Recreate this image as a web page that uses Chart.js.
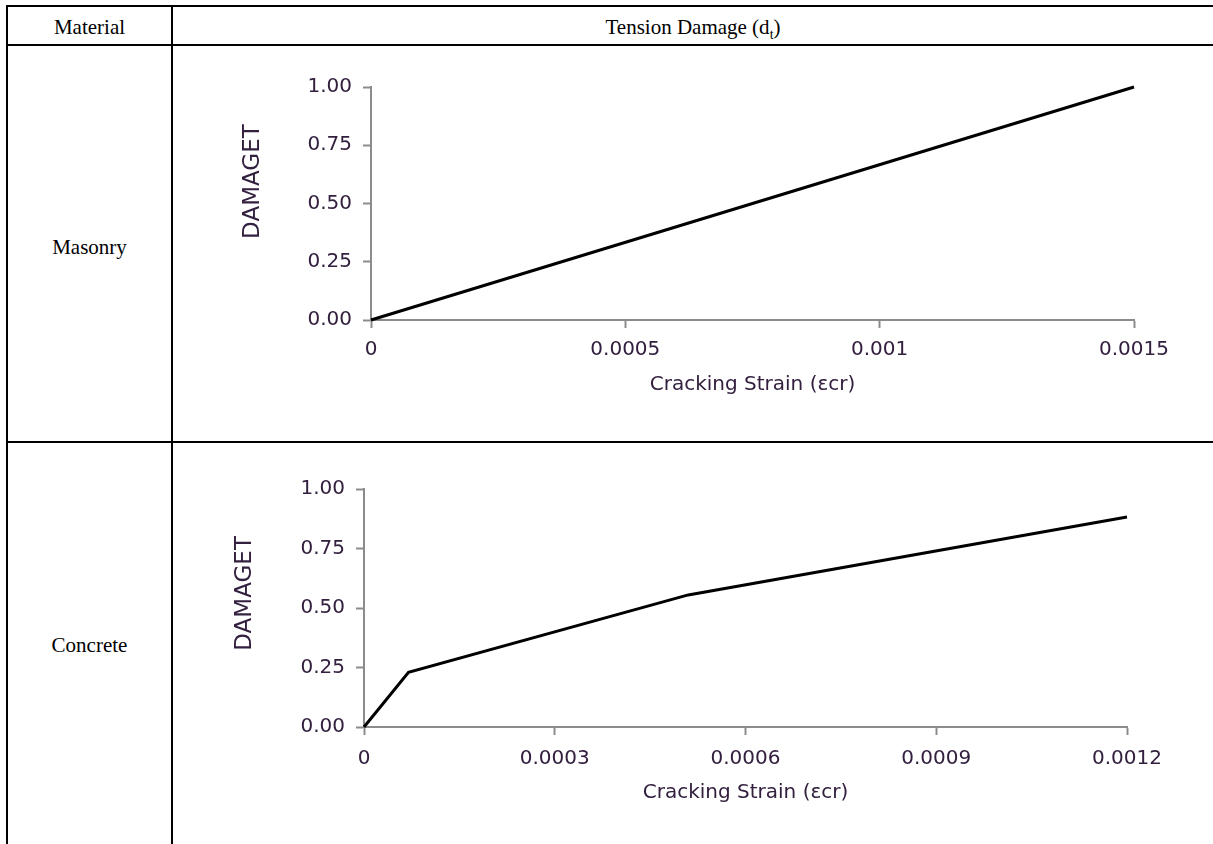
<!DOCTYPE html>
<html>
<head>
<meta charset="utf-8">
<script src="https://cdn.jsdelivr.net/npm/chart.js@4"></script>
<style>
  html, body { margin:0; padding:0; background:#fff; width:1213px; height:844px; overflow:hidden; }
  .ln { position:absolute; background:#000; }
  .cell { position:absolute; font-family:"Liberation Serif","Times New Roman",serif; font-size:21px; color:#000; text-align:center; line-height:24px; }
  canvas { position:absolute; }
</style>
</head>
<body>
<!-- table borders -->
<div class="ln" style="left:6px;top:5px;width:1207px;height:2px;"></div>
<div class="ln" style="left:6px;top:44px;width:1207px;height:2px;"></div>
<div class="ln" style="left:6px;top:441px;width:1207px;height:2px;"></div>
<div class="ln" style="left:6px;top:5px;width:2px;height:839px;"></div>
<div class="ln" style="left:171px;top:5px;width:2px;height:839px;"></div>

<div class="cell" id="hMat" style="left:8px;top:15px;width:163px;">Material</div>
<div class="cell" id="hTen" style="left:173px;top:15px;width:1040px;">Tension Damage (d<sub style="font-size:14px;line-height:0;">t</sub>)</div>
<div class="cell" id="rMas" style="left:8px;top:235px;width:163px;">Masonry</div>
<div class="cell" id="rCon" style="left:8px;top:633px;width:163px;">Concrete</div>

<canvas id="c1"></canvas>
<canvas id="c2"></canvas>

<script>
// ---- data ----
const materials = ["Masonry", "Concrete"];
const masonryStrain = [0, 0.0015];
const masonryDamage = [0, 1.0];
const concreteStrain = [0, 0.00007, 0.00051, 0.0012];
const concreteDamage = [0, 0.23, 0.555, 0.882];
const masonryXTicks = [0, 0.0005, 0.001, 0.0015];
const concreteXTicks = [0, 0.0003, 0.0006, 0.0009, 0.0012];
const yTicks = [0, 0.25, 0.5, 0.75, 1.0];
const xTitle = "Cracking Strain (\u03b5cr)";
const yTitle = "DAMAGET";

const TEXT = "#33203f";
const AXIS = "#8c8c8c";

function makeChart(id, box, strain, damage, xTicks, cfg) {
  const cv = document.getElementById(id);
  cv.style.left = box.left + "px";
  cv.style.top = box.top + "px";
  const pts = strain.map((x, i) => ({ x: x, y: damage[i] }));
  return new Chart(cv, {
    type: "scatter",
    data: {
      datasets: [{
        data: pts,
        showLine: true,
        borderColor: "#000",
        backgroundColor: "#000",
        borderWidth: 3,
        pointRadius: 0,
        tension: 0,
        clip: false
      }]
    },
    options: {
      responsive: false,
      animation: false,
      devicePixelRatio: 1,
      layout: { padding: { left: 0, right: cfg.padRight, top: cfg.padTop, bottom: 0 } },
      plugins: { legend: { display: false }, tooltip: { enabled: false } },
      scales: {
        x: {
          type: "linear",
          min: xTicks[0],
          max: xTicks[xTicks.length - 1],
          afterBuildTicks: s => { s.ticks = xTicks.map(v => ({ value: v })); },
          afterFit: s => { s.height = cfg.xAxisH; },
          grid: { display: true, drawOnChartArea: false, drawTicks: true, tickLength: 8, tickWidth: 2, color: AXIS },
          border: { display: true, color: AXIS, width: 2 },
          ticks: {
            padding: cfg.xTickPad,
            color: TEXT,
            maxRotation: 0,
            font: { family: "DejaVu Sans", size: 20 },
            callback: v => String(Number(v.toFixed(6)))
          },
          title: {
            display: true,
            text: xTitle,
            color: TEXT,
            font: { family: "DejaVu Sans", size: 20 },
            padding: { top: 0, bottom: cfg.xTitlePad }
          }
        },
        y: {
          type: "linear",
          min: 0,
          max: 1,
          afterBuildTicks: s => { s.ticks = yTicks.map(v => ({ value: v })); },
          afterFit: s => { s.width = cfg.yAxisW; },
          grid: { display: true, drawOnChartArea: false, drawTicks: true, tickLength: 8, tickWidth: 2, color: AXIS },
          border: { display: true, color: AXIS, width: 2 },
          ticks: {
            padding: 11,
            color: TEXT,
            font: { family: "DejaVu Sans", size: 20 },
            callback: v => Number(v).toFixed(2)
          },
          title: {
            display: true,
            text: cfg.yTitleText,
            color: TEXT,
            font: { family: "DejaVu Sans", size: 23 },
            padding: { top: cfg.yTitlePad, bottom: 0 }
          }
        }
      }
    }
  });
}

const c1 = document.getElementById("c1");
c1.width = 1025; c1.height = 385;
const c2 = document.getElementById("c2");
c2.width = 1025; c2.height = 390;

makeChart("c1", { left: 180, top: 50 }, masonryStrain, masonryDamage, masonryXTicks, {
  padRight: 71, padTop: 37, xAxisH: 115, yAxisW: 191, xTitlePad: 38, yTitlePad: 59, xTickPad: 10,
  yTitleText: "      " + yTitle
});
makeChart("c2", { left: 180, top: 448 }, concreteStrain, concreteDamage, concreteXTicks, {
  padRight: 78, padTop: 41, xAxisH: 111, yAxisW: 184, xTitlePad: 33, yTitlePad: 51, xTickPad: 12,
  yTitleText: "    " + yTitle
});
</script>
</body>
</html>
